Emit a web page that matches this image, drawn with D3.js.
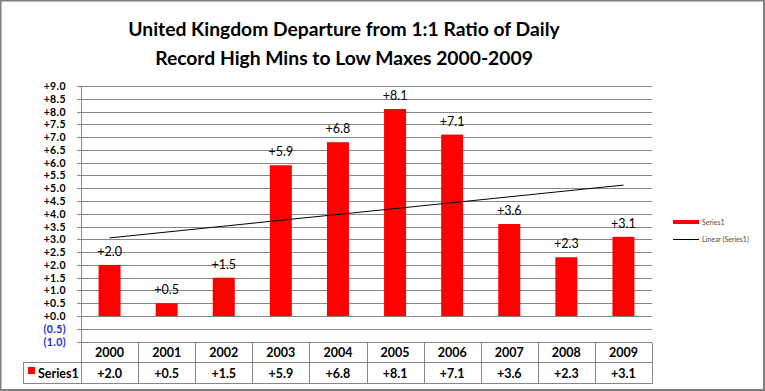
<!DOCTYPE html>
<html>
<head>
<meta charset="utf-8">
<script src="https://cdn.jsdelivr.net/npm/d3@7"></script>
<style>
  body { margin: 0; background: #fff; }
  svg { display: block; font-family: Lato, "Open Sans", sans-serif; }
</style>
</head>
<body>
<div class="graphbox"></div>
<script>
var years = ["2000","2001","2002","2003","2004","2005","2006","2007","2008","2009"]
var departure = [2.0,0.5,1.5,5.9,6.8,8.1,7.1,3.6,2.3,3.1]
var yTicks = [-1,-0.5,0,0.5,1,1.5,2,2.5,3,3.5,4,4.5,5,5.5,6,6.5,7,7.5,8,8.5,9]
var seriesName = "Series1"
var trendName = "Linear (Series1)"
var titleLines = ["United Kingdom Departure from 1:1 Ratio of Daily","Record High Mins to Low Maxes 2000-2009"]

var svgWidth = 765;
var svgHeight = 391;
var gridCol = "#868686";

// number format like excel: +2.0 / (0.5)
var fmt = function(v) {
  if (v < 0) return "(" + Math.abs(v).toFixed(1) + ")";
  return "+" + v.toFixed(1);
};

var mysvg = d3.select(".graphbox")
  .append("svg")
  .attr("width", svgWidth)
  .attr("height", svgHeight);

mysvg.append("rect")
  .attr("x", 0.5).attr("y", 0.5)
  .attr("width", svgWidth - 1.5).attr("height", svgHeight - 1.5)
  .attr("fill", "white")
  .attr("stroke", "#7f7f7f")
  .attr("stroke-width", 2);

// title
mysvg.selectAll(".toplab")
  .data(titleLines)
  .enter()
  .append("text")
  .attr("class", "toplab")
  .attr("x", 344)
  .attr("y", function(d, i) { return 36 + i * 29; })
  .attr("text-anchor", "middle")
  .attr("font-size", "19.3px")
  .attr("font-weight", "bold")
  .attr("fill", "#000")
  .text(function(d) { return d; });

var xScale = d3.scaleBand()
  .domain(years)
  .range([81, 652])
  .paddingInner(0.615)
  .paddingOuter(0.3075);

var colW = (652 - 81) / years.length;

var yScale = d3.scaleLinear()
  .domain([-1, 9])
  .range([341.6, 86]);

// gridlines
mysvg.selectAll(".grid")
  .data(yTicks)
  .enter()
  .append("line")
  .attr("class", "grid")
  .attr("x1", 77)
  .attr("x2", 652)
  .attr("y1", function(d) { return Math.round(yScale(d)) + 0.5; })
  .attr("y2", function(d) { return Math.round(yScale(d)) + 0.5; })
  .attr("stroke", gridCol)
  .attr("stroke-width", 1)
  .attr("shape-rendering", "crispEdges");

// y labels
mysvg.selectAll(".ylab")
  .data(yTicks)
  .enter()
  .append("text")
  .attr("class", "ylab")
  .attr("x", 66)
  .attr("y", function(d) { return yScale(d) + 4; })
  .attr("text-anchor", "end")
  .attr("font-size", "10.5px")
  .attr("font-weight", "bold")
  .attr("letter-spacing", "0.4px")
  .attr("fill", function(d) { return d < 0 ? "#1f1fe6" : "#000"; })
  .text(fmt);

// bars
mysvg.selectAll(".bar")
  .data(departure)
  .enter()
  .append("rect")
  .attr("class", "bar")
  .attr("x", function(d, i) { return xScale(years[i]); })
  .attr("y", function(d) { return yScale(d); })
  .attr("width", xScale.bandwidth())
  .attr("height", function(d) { return yScale(0) - yScale(d); })
  .attr("fill", "#ff0000");

// bar labels
mysvg.selectAll(".barlab")
  .data(departure)
  .enter()
  .append("text")
  .attr("class", "barlab")
  .attr("x", function(d, i) { return xScale(years[i]) + xScale.bandwidth() / 2; })
  .attr("y", function(d) { return yScale(d) - 9; })
  .attr("text-anchor", "middle")
  .attr("font-size", "12.5px")
  .attr("fill", "#000")
  .text(fmt);

// linear trend (least squares over the series)
var n = departure.length;
var mx = d3.mean(departure, function(d, i) { return i; });
var my = d3.mean(departure);
var sxy = d3.sum(departure, function(d, i) { return (i - mx) * (d - my); });
var sxx = d3.sum(departure, function(d, i) { return (i - mx) * (i - mx); });
var slope = sxy / sxx;
var icpt = my - slope * mx;
var trendPts = [0, n - 1].map(function(i) {
  return [xScale(years[i]) + xScale.bandwidth() / 2, yScale(icpt + slope * i)];
});

mysvg.append("path")
  .attr("d", d3.line()(trendPts))
  .attr("stroke", "black")
  .attr("stroke-width", 1)
  .attr("fill", "none");

// vertical axis line
mysvg.append("line")
  .attr("x1", 81.5).attr("x2", 81.5)
  .attr("y1", 86).attr("y2", 383)
  .attr("stroke", gridCol)
  .attr("shape-rendering", "crispEdges");

// data table
var rowY = [342.5, 362.5, 383.5];
mysvg.selectAll(".trow")
  .data(rowY)
  .enter()
  .append("line")
  .attr("class", "trow")
  .attr("x1", function(d, i) { return i === 0 ? 81 : 23; })
  .attr("x2", 652)
  .attr("y1", function(d) { return d; })
  .attr("y2", function(d) { return d; })
  .attr("stroke", gridCol)
  .attr("shape-rendering", "crispEdges");

mysvg.selectAll(".tcol")
  .data(years)
  .enter()
  .append("line")
  .attr("class", "tcol")
  .attr("x1", function(d) { return Math.round(xScale(d) - xScale.step() * 0.3075 + colW) + 0.5; })
  .attr("x2", function(d) { return Math.round(xScale(d) - xScale.step() * 0.3075 + colW) + 0.5; })
  .attr("y1", 342.5)
  .attr("y2", 383.5)
  .attr("stroke", gridCol)
  .attr("shape-rendering", "crispEdges");

mysvg.append("line")
  .attr("x1", 23.5).attr("x2", 23.5)
  .attr("y1", 362.5).attr("y2", 383.5)
  .attr("stroke", gridCol)
  .attr("shape-rendering", "crispEdges");

mysvg.selectAll(".yearlab")
  .data(years)
  .enter()
  .append("text")
  .attr("class", "yearlab")
  .attr("x", function(d) { return xScale(d) + xScale.bandwidth() / 2; })
  .attr("y", 357)
  .attr("text-anchor", "middle")
  .attr("font-size", "12.5px")
  .attr("font-weight", "bold")
  .text(function(d) { return d; });

mysvg.selectAll(".vallab")
  .data(departure)
  .enter()
  .append("text")
  .attr("class", "vallab")
  .attr("x", function(d, i) { return xScale(years[i]) + xScale.bandwidth() / 2; })
  .attr("y", 377.5)
  .attr("text-anchor", "middle")
  .attr("font-size", "12.5px")
  .attr("font-weight", "bold")
  .text(fmt);

mysvg.append("rect")
  .attr("x", 28).attr("y", 367)
  .attr("width", 7).attr("height", 7)
  .attr("fill", "#ff0000");

mysvg.append("text")
  .attr("x", 38).attr("y", 377.5)
  .attr("font-size", "12.5px")
  .attr("font-weight", "bold")
  .text(seriesName);

// legend
var legend = mysvg.append("g");
legend.append("rect")
  .attr("x", 673).attr("y", 220)
  .attr("width", 26).attr("height", 4)
  .attr("fill", "#ff0000");
legend.append("text")
  .attr("x", 702).attr("y", 225)
  .attr("font-size", "7px")
  .attr("fill", "#5a4a3a")
  .text(seriesName);
legend.append("line")
  .attr("x1", 673).attr("x2", 699)
  .attr("y1", 239.5).attr("y2", 239.5)
  .attr("stroke", "black");
legend.append("text")
  .attr("x", 702).attr("y", 242)
  .attr("font-size", "7px")
  .attr("fill", "#5a4a3a")
  .text(trendName);
</script>
</body>
</html>
